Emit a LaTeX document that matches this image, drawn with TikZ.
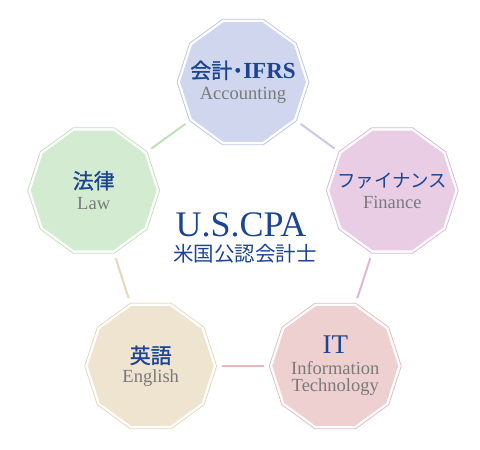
\documentclass[tikz,border=0pt]{standalone}
\usepackage{fontspec}
\setmainfont{Liberation Serif}
\newfontfamily\jpfont{Noto Sans CJK JP}
\newfontfamily\jpheavy[FakeBold=1.2]{Noto Sans CJK JP}
\usepackage{tikz}
\usetikzlibrary{shapes.geometric}
\definecolor{navy}{HTML}{1B4593}
\definecolor{subgray}{HTML}{7A7A7A}
\definecolor{accfill}{HTML}{CFD6EE}
\definecolor{accline}{HTML}{BCC6E8}
\definecolor{acclink}{HTML}{CCC8E6}
\definecolor{finfill}{HTML}{E8CDE4}
\definecolor{finline}{HTML}{DDB7D7}
\definecolor{lawfill}{HTML}{D3EBD0}
\definecolor{lawline}{HTML}{C0E0BC}
\definecolor{engfill}{HTML}{EEE4CF}
\definecolor{engline}{HTML}{E6D7B8}
\definecolor{itfill}{HTML}{EED0D1}
\definecolor{itline}{HTML}{E4BBBE}
\newcommand\labjp{\jpheavy\fontsize{21}{21}\selectfont}
\newcommand\labsub{\color{subgray}\fontsize{18.5}{21}\selectfont}
\newcommand\zbox[1]{\makebox[0pt]{#1}}

\begin{document}
\begin{tikzpicture}[x=1pt, y=1pt,
  deca/.style={regular polygon, regular polygon sides=10, minimum size=126pt,
               inner sep=0pt, fill=#1, align=center, text=navy,
               font=\fontsize{20}{21}\selectfont},
  rim/.style={regular polygon, regular polygon sides=10, minimum size=132pt,
              inner sep=0pt, draw=#1, line width=0.8pt},
  link/.style={line width=2pt, draw=#1, shorten <=8pt, shorten >=8pt}]
\useasboundingbox (-243,-211) rectangle (237,239);
% outer rims
\node[rim=accline] (accr) at (90:157) {};
\node[rim=finline] (finr) at (18:157) {};
\node[rim=lawline] (lawr) at (162:157) {};
\node[rim=engline] (engr) at (234:157) {};
\node[rim=itline] (itr) at (306:157) {};
% filled decagons with labels
\node[deca=accfill] (acc) at (accr) {\zbox{\labjp 会計\hspace{-5pt}・\hspace{-5pt}{\rmfamily\bfseries\fontsize{23}{21}\selectfont IFRS}}\\\zbox{\labsub Accounting}};
\node[deca=finfill] (fin) at (finr) {\zbox{\jpfont\fontsize{18.5}{21}\selectfont ファイナンス}\\\zbox{\labsub Finance}};
\node[deca=lawfill] (law) at (lawr) {\zbox{\labjp 法律}\\\zbox{\labsub Law}};
\node[deca=engfill] (eng) at (engr) {\zbox{\labjp 英語}\\[-2pt]\zbox{\labsub English}};
\node[deca=itfill] (it) at (itr) {\zbox{\fontsize{27}{21}\selectfont IT}\\\zbox{\labsub Information}\\[-4pt]\zbox{\labsub Technology}};
% connectors
\draw[link=acclink] (acc) -- (fin);
\draw[link=lawline] (law) -- (acc);
\draw[link=engline] (eng) -- (law);
\draw[link=itline] (it) -- (eng);
\draw[link=finline] (fin) -- (it);
% centre title
\node[text=navy, font=\fontsize{36}{36}\selectfont, inner sep=0pt] (cpa) at (-2,14) {U.S.CPA};
\node[text=navy, font=\jpfont\fontsize{20.5}{20}\selectfont, inner sep=0pt] (cpajp) at (2,-15) {米国公認会計士};
\end{tikzpicture}
\end{document}
